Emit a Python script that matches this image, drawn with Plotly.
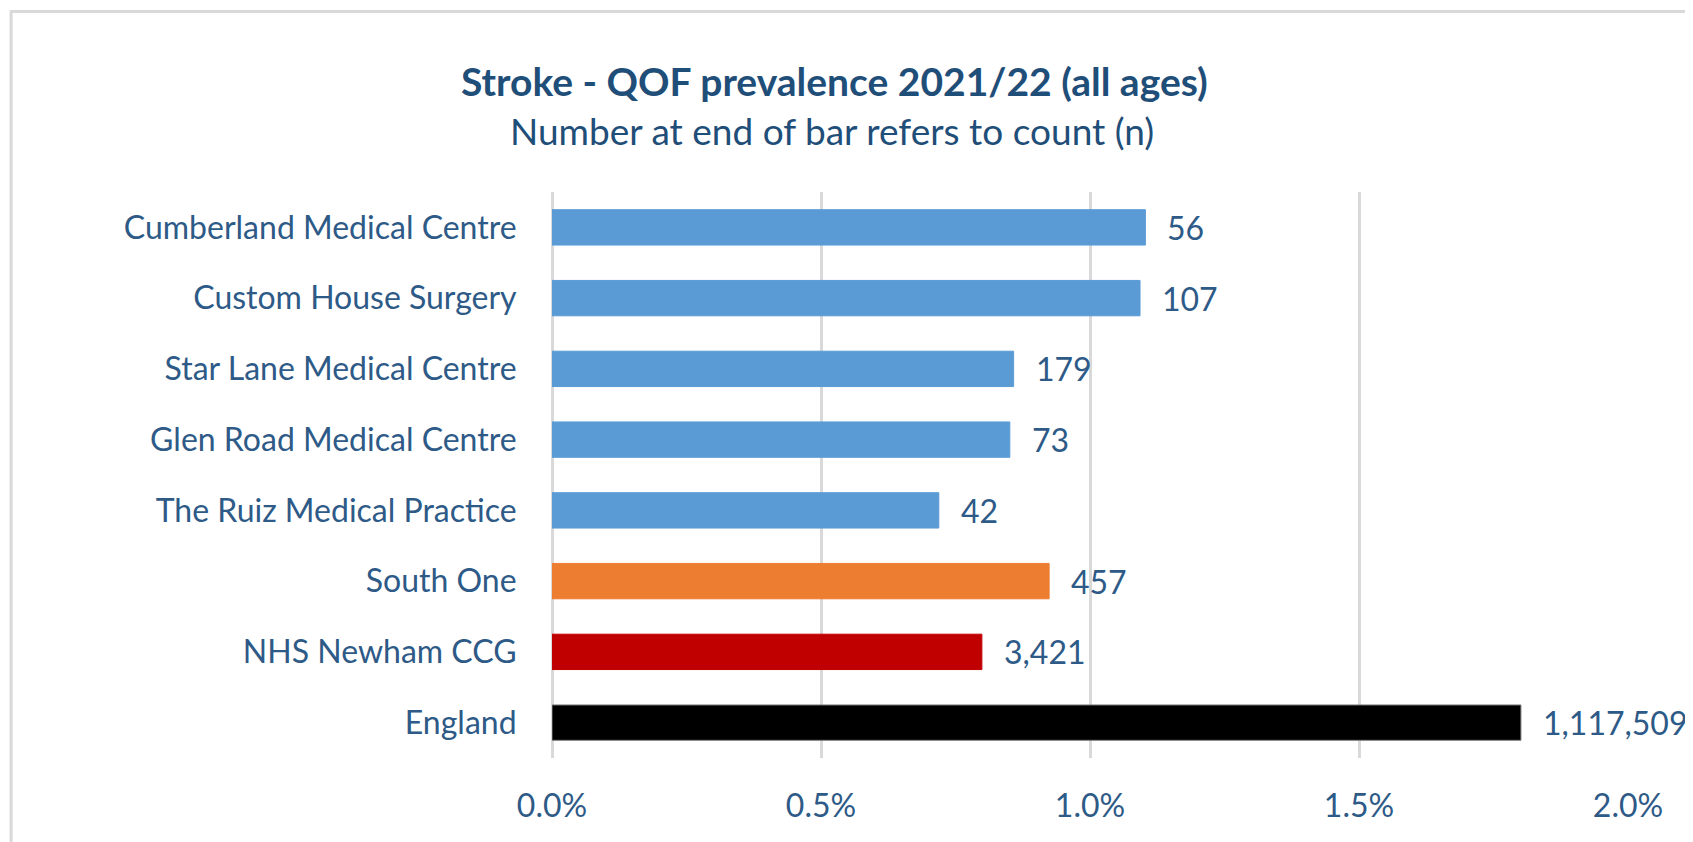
import plotly.graph_objects as go

categories = [
    "Cumberland Medical Centre",
    "Custom House Surgery",
    "Star Lane Medical Centre",
    "Glen Road Medical Centre",
    "The Ruiz Medical Practice",
    "South One",
    "NHS Newham CCG",
    "England",
]
prevalence_pct = [1.103, 1.093, 0.858, 0.851, 0.719, 0.924, 0.799, 1.801]
counts = [56, 107, 179, 73, 42, 457, 3421, 1117509]
bar_colors = ["#5b9bd5", "#5b9bd5", "#5b9bd5", "#5b9bd5", "#5b9bd5",
              "#ed7d31", "#c00000", "#000000"]
line_colors = ["#5b9bd5", "#5b9bd5", "#5b9bd5", "#5b9bd5", "#5b9bd5",
               "#ed7d31", "#c00000", "#7f7f7f"]
x_tick_vals = [0.0, 0.5, 1.0, 1.5, 2.0]
x_tick_text = ["0.0%", "0.5%", "1.0%", "1.5%", "2.0%"]

title_text = "Stroke - QOF prevalence 2021/22 (all ages)"
subtitle_text = "Number at end of bar refers to count (n)"

FONT = "Lato"
LABEL_COLOR = "#2e5a87"
TITLE_COLOR = "#1f4e79"

# plot area in figure pixels (page is offset 8px by body margin)
L, R, T, B = 543.7, 1620.3, 183.7, 750.3
W, H = R - L, B - T


def px_to_paper_x(px):
    return (px - L) / W


def px_to_paper_y(py):
    return (B - py) / H


fig = go.Figure()
fig.add_trace(go.Bar(
    x=prevalence_pct,
    y=categories,
    orientation="h",
    marker=dict(color=bar_colors, line=dict(color=line_colors, width=1)),
    hoverinfo="skip",
))

for cat, val, n in zip(categories, prevalence_pct, counts):
    fig.add_annotation(
        x=val, y=cat, xref="x", yref="y",
        text=f"{n:,}", showarrow=False,
        xanchor="left", yanchor="middle", xshift=20,
        font=dict(family=FONT, size=32, color=LABEL_COLOR),
    )

fig.add_annotation(
    x=px_to_paper_x(826), y=px_to_paper_y(73), xref="paper", yref="paper",
    text=f"<b>{title_text}</b>", showarrow=False,
    xanchor="center", yanchor="middle",
    font=dict(family=FONT, size=39, color=TITLE_COLOR),
)
fig.add_annotation(
    x=px_to_paper_x(824), y=px_to_paper_y(122), xref="paper", yref="paper",
    text=subtitle_text, showarrow=False,
    xanchor="center", yanchor="middle",
    font=dict(family=FONT, size=37, color=TITLE_COLOR),
)

# outer chart border (top and left edges visible)
fig.add_shape(
    type="rect", xref="paper", yref="paper",
    x0=px_to_paper_x(2.5), x1=px_to_paper_x(1800),
    y0=px_to_paper_y(900), y1=px_to_paper_y(3),
    line=dict(color="#d9d9d9", width=3), fillcolor="rgba(0,0,0,0)",
    layer="below",
)

fig.update_layout(
    width=1693, height=842,
    margin=dict(l=L, r=1693 - R, t=T, b=842 - B, pad=0),
    paper_bgcolor="white", plot_bgcolor="white",
    showlegend=False,
    bargap=0.5,
    font=dict(family=FONT, size=32, color=LABEL_COLOR),
)
fig.update_xaxes(
    range=[0, 2.0], tickvals=x_tick_vals, ticktext=x_tick_text,
    showgrid=True, gridcolor="#d9d9d9", gridwidth=2.5,
    zeroline=True, zerolinecolor="#d9d9d9", zerolinewidth=2.5,
    showline=False, ticks="outside", ticklen=20,
    tickcolor="rgba(0,0,0,0)", tickfont=dict(family=FONT, size=32, color=LABEL_COLOR),
    fixedrange=True,
)
fig.update_yaxes(
    autorange="reversed", showgrid=False, zeroline=False, showline=False,
    ticks="outside", ticklen=28, tickcolor="rgba(0,0,0,0)",
    tickfont=dict(family=FONT, size=32, color=LABEL_COLOR),
    fixedrange=True,
)

fig.write_html("out.html")
